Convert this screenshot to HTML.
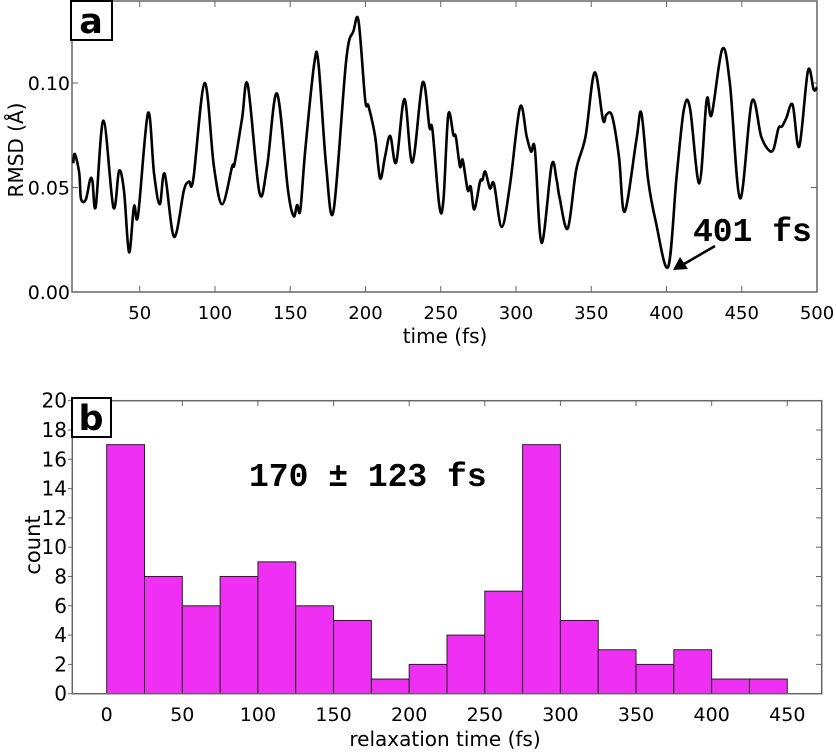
<!DOCTYPE html>
<html><head><meta charset="utf-8"><style>
body{margin:0;background:#fff;}
svg{display:block;font-family:"DejaVu Sans","Liberation Sans",sans-serif;}
</style></head><body>
<svg id="c" width="836" height="752"></svg>
<script>
const rmsdT=[5.8,6.9,9.8,11,14.2,17,18.6,20.8,25.9,32.5,36.3,39.6,42.9,46.2,48.9,55.5,59.5,63.3,66.6,72.8,79.4,82.7,85.6,93.1,99.3,104.8,111.4,113,118,121.8,129.5,134.6,141.2,148.5,152.3,154.5,156.7,160,166,168.8,173.9,178.8,187.2,192,195.4,199.8,202,206.4,209.7,213,216.4,220.4,225.9,231.2,238,242.5,244.5,249.1,251.8,255,258.4,260,262.8,264.6,267.9,269.9,272.3,276.1,277.7,279.6,282.7,285.4,290.5,296,302.7,307.1,310,312.6,317,323.7,327,329,334.4,340,346.2,352.2,357.8,360,363.8,368.4,372.2,380,383.3,387.8,392.9,401.1,406.7,411.6,415.6,421.8,426.7,430,437.1,442.2,448.9,456.7,462.9,467.8,471.1,474.4,476.7,479.6,483.8,488.2,494,497.8,500];
const rmsdV=[0.0616,0.066,0.057,0.0445,0.0443,0.0536,0.053,0.041,0.082,0.0405,0.058,0.048,0.019,0.041,0.0368,0.0856,0.0568,0.042,0.0565,0.0264,0.0488,0.0528,0.054,0.100,0.060,0.042,0.060,0.0613,0.083,0.099,0.0477,0.060,0.095,0.0488,0.0363,0.0416,0.0392,0.068,0.1096,0.109,0.060,0.039,0.111,0.1248,0.1296,0.092,0.089,0.0744,0.0544,0.0648,0.0747,0.062,0.0923,0.062,0.1003,0.0789,0.0776,0.0411,0.044,0.0848,0.0752,0.0744,0.060,0.0632,0.0488,0.0504,0.0395,0.0528,0.0536,0.0576,0.0496,0.0517,0.0312,0.0512,0.0885,0.0744,0.0672,0.068,0.0235,0.0608,0.0536,0.045,0.0304,0.0584,0.0744,0.105,0.0824,0.0848,0.0843,0.0648,0.0384,0.0728,0.0856,0.0536,0.0336,0.012,0.0552,0.0875,0.088,0.052,0.092,0.0848,0.1163,0.0992,0.0448,0.0912,0.0744,0.068,0.0683,0.0784,0.0792,0.0832,0.0896,0.0696,0.1059,0.0968,0.098];
const topXTicks=[50,100,150,200,250,300,350,400,450,500];
const topYTicks=[0,0.05,0.10];
const topYLabels=["0.00","0.05","0.10"];
const binStarts=[0,25,50,75,100,125,150,175,200,225,250,275,300,325,350,375,400,425];
const binCounts=[17,8,6,8,9,6,5,1,2,4,7,17,5,3,2,3,1,1];
const binWidth=25;
const botXTicks=[0,50,100,150,200,250,300,350,400,450];
const botYTicks=[0,2,4,6,8,10,12,14,16,18,20];

const NS="http://www.w3.org/2000/svg";
const svg=document.getElementById('c');
function mk(t,a,p){const e=document.createElementNS(NS,t);for(const k in a)e.setAttribute(k,a[k]);(p||svg).appendChild(e);return e;}
const tx=v=>72+(v-5)*(817-72)/495;
const ty=v=>292-v*2090;
let g=mk('g',{});


let fr=mk('rect',{x:72,y:1,width:745,height:291,fill:'none',stroke:'#666','stroke-width':1.5},g);


topXTicks.forEach(v=>{
  const x=tx(v);
  mk('line',{x1:x,y1:292,x2:x,y2:286,stroke:'#666'},g);
  mk('line',{x1:x,y1:1,x2:x,y2:7,stroke:'#666'},g);
  const t=mk('text',{x:x,y:319,'text-anchor':'middle','font-size':18},g);t.textContent=v;
  
  
});
topYTicks.forEach((v,i)=>{
  const y=ty(v);
  mk('line',{x1:72,y1:y,x2:78,y2:y,stroke:'#666'},g);
  mk('line',{x1:817,y1:y,x2:811,y2:y,stroke:'#666'},g);
  const t=mk('text',{x:70,y:y+7,'text-anchor':'end','font-size':19},g);t.textContent=topYLabels[i];
  
  
});
let pts=rmsdT.map((t,i)=>[tx(t),ty(rmsdV[i])]);
let d='M'+pts[0][0]+','+pts[0][1];
for(let i=0;i<pts.length-1;i++){
  const p0=pts[Math.max(0,i-1)],p1=pts[i],p2=pts[i+1],p3=pts[Math.min(pts.length-1,i+2)];
  const c1=[p1[0]+(p2[0]-p0[0])/6,p1[1]+(p2[1]-p0[1])/6];
  const c2=[p2[0]-(p3[0]-p1[0])/6,p2[1]-(p3[1]-p1[1])/6];
  d+=`C${c1[0]},${c1[1]} ${c2[0]},${c2[1]} ${p2[0]},${p2[1]}`;
}
let ln=mk('path',{d:d,fill:'none',stroke:'#000','stroke-width':2.6,'stroke-linejoin':'round'},g);


</script>
<script>
(function(){
let t;
t=mk('text',{x:0,y:0,'text-anchor':'middle','font-size':20,transform:'translate(23,150) rotate(-90)'});t.textContent='RMSD (Å)';


t=mk('text',{x:445,y:343,'text-anchor':'middle','font-size':20});t.textContent='time (fs)';


let b=mk('rect',{x:71,y:1,width:41,height:39,fill:'#fff',stroke:'#000','stroke-width':2});


t=mk('text',{x:91,y:33,'text-anchor':'middle','font-size':35,'font-weight':'bold'});t.textContent='a';


t=mk('text',{x:693,y:241,'font-size':33,'font-weight':'bold','font-family':'"Liberation Mono",monospace'});t.textContent='401 fs';


let a=mk('line',{x1:715,y1:246,x2:684,y2:264,stroke:'#000','stroke-width':2.5});


mk('polygon',{points:'673,270 680,257 688,269',fill:'#000'});
})();
</script>
<script>
(function(){
const bx=v=>106.7+v*1.5124;
const by=v=>693.7-v*14.65;
let g=mk('g',{});


binStarts.forEach((s,i)=>{
  const r=mk('rect',{x:bx(s),y:by(binCounts[i]),width:bx(s+binWidth)-bx(s),height:by(0)-by(binCounts[i]),fill:'#f02ff5',stroke:'#222','stroke-width':1},g);
  
  
});
let fr=mk('rect',{x:72.3,y:400.7,width:749.4,height:293,fill:'none',stroke:'#666','stroke-width':1.5},g);


botXTicks.forEach(v=>{
  const x=bx(v);
  mk('line',{x1:x,y1:400.7,x2:x,y2:406,stroke:'#666'},g);
  const t=mk('text',{x:x,y:721,'text-anchor':'middle','font-size':19},g);t.textContent=v;
  
  
});
botYTicks.forEach(v=>{
  const y=by(v);
  mk('line',{x1:72.3,y1:y,x2:68,y2:y,stroke:'#666'},g);
  mk('line',{x1:821.7,y1:y,x2:816,y2:y,stroke:'#666'},g);
  const t=mk('text',{x:67,y:y+7,'text-anchor':'end','font-size':20},g);t.textContent=v;
  
  
});
let t=mk('text',{x:0,y:0,'text-anchor':'middle','font-size':21,transform:'translate(40,545) rotate(-90)'});t.textContent='count';


t=mk('text',{x:445,y:746,'text-anchor':'middle','font-size':20});t.textContent='relaxation time (fs)';


let b=mk('rect',{x:72,y:398,width:39,height:39,fill:'#fff',stroke:'#000','stroke-width':2});


t=mk('text',{x:91,y:430,'text-anchor':'middle','font-size':35,'font-weight':'bold'});t.textContent='b';


t=mk('text',{x:249,y:486,'font-size':33,'font-weight':'bold','font-family':'"Liberation Mono",monospace'});t.textContent='170 ± 123 fs';


})();
</script>
</body></html>
